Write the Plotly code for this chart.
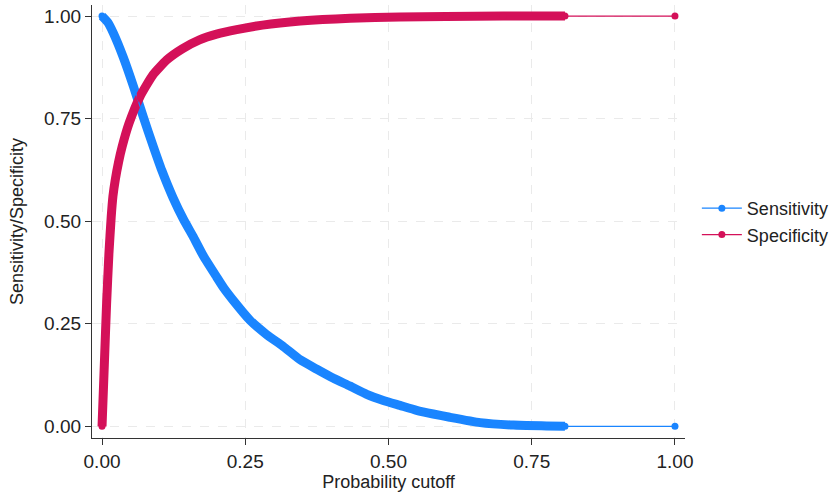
import plotly.graph_objects as go

# Probability cutoff vs sensitivity
sens_x = [0, 0.01, 0.02, 0.037, 0.055, 0.072, 0.09, 0.104, 0.124, 0.142, 0.16, 0.177,
          0.2, 0.212, 0.229, 0.258, 0.287, 0.316, 0.346, 0.375, 0.404, 0.433, 0.462,
          0.491, 0.52, 0.549, 0.578, 0.607, 0.66, 0.718, 0.776, 0.808, 1.0]
sens_y = [1.0, 0.985, 0.958, 0.90, 0.828, 0.754, 0.68, 0.625, 0.557, 0.505, 0.46, 0.415,
          0.364, 0.338, 0.307, 0.259, 0.224, 0.195, 0.162, 0.139, 0.117, 0.098, 0.078,
          0.063, 0.051, 0.039, 0.030, 0.022, 0.009, 0.003, 0.001, 0.0, 0.0]

# Probability cutoff vs specificity
spec_x = [0, 0.004, 0.008, 0.012, 0.016, 0.019, 0.023, 0.029, 0.035, 0.047, 0.066,
          0.089, 0.113, 0.14, 0.17, 0.2, 0.235, 0.28, 0.346, 0.433, 0.52, 0.6, 0.7,
          0.808, 1.0]
spec_y = [0, 0.15, 0.30, 0.42, 0.51, 0.56, 0.60, 0.645, 0.681, 0.738, 0.803,
          0.857, 0.893, 0.92, 0.942, 0.956, 0.967, 0.978, 0.988, 0.995, 0.998, 0.999,
          1.0, 1.0, 1.0]

tick_vals = [0, 0.25, 0.5, 0.75, 1.0]
tick_text = ["0.00", "0.25", "0.50", "0.75", "1.00"]

BLUE = "#1a85ff"
RED = "#d41159"
FONT = "Liberation Sans, Arial, sans-serif"
TXT = "#222222"

fig = go.Figure()

# dense band of markers (drawn as a thick round line through the read points)
for xs, ys, col in [(sens_x, sens_y, BLUE), (spec_x, spec_y, RED)]:
    fig.add_trace(go.Scatter(
        x=xs[:-1], y=ys[:-1], mode="lines",
        line=dict(color=col, width=9, shape="spline", smoothing=0.5),
        showlegend=False, hoverinfo="skip"))

for xs, ys, col, name in [(sens_x, sens_y, BLUE, "Sensitivity"),
                          (spec_x, spec_y, RED, "Specificity")]:
    fig.add_trace(go.Scatter(
        x=xs, y=ys, mode="lines+markers", name=name,
        line=dict(color=col, width=1.3),
        marker=dict(color=col, size=7)))

axis_common = dict(
    tickvals=tick_vals, ticktext=tick_text,
    showgrid=True, gridcolor="#eaeaea", griddash="dash", gridwidth=1,
    zeroline=False, showline=True, linecolor="#333", linewidth=1.2,
    ticks="outside", ticklen=6, tickcolor="#333",
    tickfont=dict(size=19, color=TXT, family=FONT),
)

fig.update_xaxes(range=[-0.0175, 1.0175], title=dict(text="Probability cutoff",
                 font=dict(size=18, color=TXT, family=FONT), standoff=4),
                 **axis_common)
fig.update_yaxes(range=[-0.0285, 1.027], title=dict(text="Sensitivity/Specificity",
                 font=dict(size=18, color=TXT, family=FONT), standoff=15),
                 **axis_common)

fig.update_layout(
    width=840, height=494,
    margin=dict(l=92, r=155, t=5, b=56),
    plot_bgcolor="white", paper_bgcolor="white",
    font=dict(family=FONT, color=TXT),
    legend=dict(x=1.02, xanchor="left", y=0.5, yanchor="middle",
                font=dict(size=18, color=TXT, family=FONT),
                itemwidth=40, tracegroupgap=0, bgcolor="rgba(0,0,0,0)"),
)

fig.write_html("out.html", config={"displayModeBar": False},
               post_script="document.body.style.margin='0px';document.body.style.overflow='hidden';")
